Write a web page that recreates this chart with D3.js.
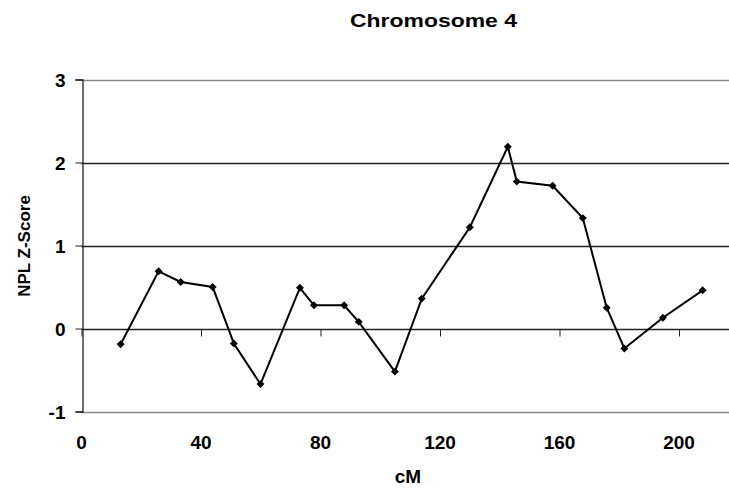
<!DOCTYPE html>
<html>
<head>
<meta charset="utf-8">
<script src="https://cdn.jsdelivr.net/npm/d3@7"></script>
<style>
  body { margin: 0; background: #fff; overflow: hidden; }
  text { font-family: "Liberation Sans", Arial, sans-serif; font-weight: bold; fill: #000; }
</style>
</head>
<body>
<div id="chart"></div>
<script>
// chromosome 4 linkage scan
var positions = [13.1, 25.8, 33.2, 43.9, 51.0, 59.9, 73.1, 77.8, 87.9, 92.8, 104.9,
                 113.9, 130.0, 142.7, 145.7, 157.7, 167.8, 175.8, 181.7, 194.6, 207.9];
var zScores = [-0.19, 0.69, 0.56, 0.50, -0.18, -0.67, 0.49, 0.28, 0.28, 0.08, -0.52,
               0.36, 1.22, 2.19, 1.77, 1.72, 1.33, 0.25, -0.24, 0.13, 0.46];
var xTicks = [0, 40, 80, 120, 160, 200];
var yTicks = [-1, 0, 1, 2, 3];

var width = 729, height = 493;

var svg = d3.select("#chart").append("svg")
    .attr("width", width)
    .attr("height", height);

var x = d3.scaleLinear().domain([0, 220]).range([81.5, 81.5 + 220 * 2.9875]);
var y = d3.scaleLinear().domain([-1, 3]).range([411.5, 79.5]);

// horizontal gridlines
svg.append("g")
  .selectAll("line")
  .data(yTicks.filter(function(d) { return d != 0; }))
  .enter()
  .append("line")
    .attr("x1", x(0))
    .attr("x2", width + 20)
    .attr("y1", function(d) { return Math.round(y(d)) + 0.5; })
    .attr("y2", function(d) { return Math.round(y(d)) + 0.5; })
    .attr("stroke", function(d) { return (d == 3 || d == -1) ? "#888" : "#222"; })
    .attr("stroke-width", 1.3);

// y axis
svg.append("g")
    .attr("transform", "translate(" + (Math.round(x(0)) + 0.5) + ",0)")
    .call(d3.axisLeft(y).tickValues(yTicks).tickSize(7).tickPadding(10).tickFormat(function(d) { return String(d); }))
    .call(function(g) {
      g.select(".domain").attr("stroke", "#222").attr("stroke-width", 1.3);
      g.selectAll(".tick line").attr("stroke", "#222");
      g.selectAll(".tick text").style("font-size", "19px").attr("dy", "0.36em");
    });

// x axis sits on zero line, labels below the plot
svg.append("g")
    .attr("transform", "translate(0," + (Math.round(y(0)) + 0.5) + ")")
    .call(d3.axisBottom(x).tickValues(xTicks).tickSize(7).tickFormat(""))
    .call(function(g) {
      g.select(".domain").attr("stroke", "#222").attr("stroke-width", 1.3)
        .attr("d", "M" + x(0) + ",0H" + (width + 20));
      g.selectAll(".tick line").attr("stroke", "#222");
    });

svg.append("g")
  .selectAll("text")
  .data(xTicks)
  .enter()
  .append("text")
    .attr("x", function(d) { return x(d); })
    .attr("y", 449)
    .attr("text-anchor", "middle")
    .style("font-size", "19px")
    .text(function(d) { return d; });

// line + markers
var line = d3.line()
    .x(function(d, i) { return x(positions[i]); })
    .y(function(d) { return y(d); });

svg.append("path")
    .datum(zScores)
    .attr("d", line)
    .attr("fill", "none")
    .attr("stroke", "#000")
    .attr("stroke-width", 2);

svg.append("g")
  .selectAll("path")
  .data(zScores)
  .enter()
  .append("path")
    .attr("transform", function(d, i) { return "translate(" + x(positions[i]) + "," + y(d) + ")"; })
    .attr("d", d3.symbol().type(d3.symbolDiamond2).size(40))
    .attr("fill", "#000");

// titles
svg.append("text")
    .attr("x", 350)
    .attr("y", 27)
    .attr("textLength", 167)
    .attr("lengthAdjust", "spacingAndGlyphs")
    .style("font-size", "18px")
    .text("Chromosome 4");

svg.append("text")
    .attr("x", 408)
    .attr("y", 483)
    .attr("text-anchor", "middle")
    .style("font-size", "19px")
    .text("cM");

svg.append("text")
    .attr("transform", "translate(30,246) rotate(-90)")
    .attr("text-anchor", "middle")
    .style("font-size", "17px")
    .text("NPL Z-Score");
</script>
</body>
</html>
